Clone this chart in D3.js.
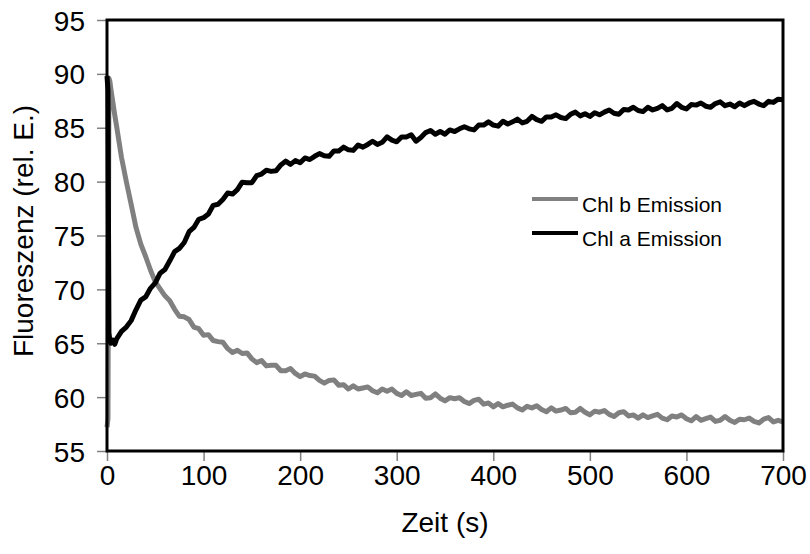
<!DOCTYPE html>
<html>
<head>
<meta charset="utf-8">
<script src="https://cdn.jsdelivr.net/npm/d3@7"></script>
<style>
  body { margin: 0; background: #fff; }
  text { font-family: "Liberation Sans", Arial, sans-serif; }
</style>
</head>
<body>
<script>
//Data (time in s, fluorescence rel. units)
var times = [0, 1, 2, 3, 4, 6, 8,
  10, 15, 20, 25, 30, 35, 40, 45, 50, 55,
  60, 65, 70, 75, 80, 85, 90, 95, 100, 105,
  110, 115, 120, 125, 130, 135, 140, 145, 150, 155,
  160, 165, 170, 175, 180, 185, 190, 195, 200, 205,
  210, 215, 220, 225, 230, 235, 240, 245, 250, 255,
  260, 265, 270, 275, 280, 285, 290, 295, 300, 305,
  310, 315, 320, 325, 330, 335, 340, 345, 350, 355,
  360, 365, 370, 375, 380, 385, 390, 395, 400, 405,
  410, 415, 420, 425, 430, 435, 440, 445, 450, 455,
  460, 465, 470, 475, 480, 485, 490, 495, 500, 505,
  510, 515, 520, 525, 530, 535, 540, 545, 550, 555,
  560, 565, 570, 575, 580, 585, 590, 595, 600, 605,
  610, 615, 620, 625, 630, 635, 640, 645, 650, 655,
  660, 665, 670, 675, 680, 685, 690, 695, 700];

var chlA = [89.8, 88.5, 66.0, 65.2, 65.0, 65.3, 64.9,
  65.4, 66.1, 66.5, 67.1, 68.1, 69.0, 69.3, 70.1, 70.6, 71.5,
  71.85, 72.65, 73.5, 73.8, 74.35, 75.35, 75.75, 76.5, 76.65, 77.0,
  77.8, 77.9, 78.35, 78.95, 78.85, 79.25, 79.95, 79.9, 79.9, 80.55,
  80.7, 81.05, 80.95, 81.0, 81.55, 81.9, 81.6, 81.95, 81.75, 82.2,
  82.05, 82.35, 82.6, 82.4, 82.35, 82.85, 82.85, 83.2, 82.95, 82.9,
  83.4, 83.2, 83.45, 83.75, 83.45, 83.65, 84.15, 83.85, 83.7, 84.15,
  84.15, 84.35, 83.75, 84.1, 84.55, 84.75, 84.4, 84.65, 84.4, 84.8,
  84.65, 84.9, 85.1, 84.9, 84.8, 85.25, 85.25, 85.55, 85.25, 85.15,
  85.6, 85.35, 85.55, 85.8, 85.45, 85.6, 86.05, 85.75, 85.6, 86.0,
  86.0, 86.2, 85.95, 85.85, 86.25, 86.45, 86.1, 86.3, 86.05, 86.4,
  86.2, 86.45, 86.65, 86.35, 86.25, 86.7, 86.65, 86.9, 86.6, 86.5,
  86.9, 86.65, 86.8, 87.05, 86.65, 86.8, 87.25, 86.9, 86.75, 87.15,
  87.1, 87.3, 87.0, 86.9, 87.25, 87.4, 87.05, 87.2, 86.95, 87.3,
  87.05, 87.3, 87.45, 87.2, 87.05, 87.45, 87.35, 87.65, 87.6];

var chlB = [57.2, 58.0, 89.6, 89.3, 88.6, 87.4, 86.2,
  85.1, 82.25, 80.0, 77.9, 75.75, 74.2, 73.05, 71.8, 70.7, 70.05,
  69.4, 68.95, 68.15, 67.5, 67.45, 67.2, 66.5, 66.35, 65.75, 65.8,
  65.25, 65.15, 65.1, 64.5, 64.15, 64.35, 64.05, 64.1, 63.55, 63.2,
  63.4, 62.9, 62.95, 62.95, 62.45, 62.45, 62.65, 62.2, 61.9, 62.15,
  62.0, 61.95, 61.55, 61.3, 61.55, 61.6, 61.1, 61.15, 60.75, 61.05,
  60.75, 60.85, 60.95, 60.6, 60.4, 60.75, 60.55, 60.75, 60.35, 60.15,
  60.5, 60.15, 60.25, 60.35, 59.9, 59.95, 60.3, 59.9, 59.65, 59.95,
  59.85, 59.95, 59.6, 59.4, 59.7, 59.8, 59.35, 59.45, 59.1, 59.4,
  59.1, 59.25, 59.35, 59.0, 58.8, 59.15, 59.0, 59.2, 58.85, 58.65,
  59.0, 58.7, 58.8, 58.95, 58.55, 58.6, 58.95, 58.6, 58.35, 58.7,
  58.6, 58.75, 58.4, 58.2, 58.55, 58.65, 58.25, 58.35, 58.05, 58.35,
  58.1, 58.25, 58.4, 58.05, 57.9, 58.25, 58.15, 58.35, 58.0, 57.8,
  58.2, 57.85, 58.0, 58.15, 57.75, 57.85, 58.2, 57.85, 57.65, 57.95,
  57.9, 58.05, 57.75, 57.6, 57.95, 58.1, 57.7, 57.85, 57.7];

var xTicks = [0, 100, 200, 300, 400, 500, 600, 700];
var yTicks = [55, 60, 65, 70, 75, 80, 85, 90, 95];
var seriesNames = ["Chl b Emission", "Chl a Emission"];
var seriesColors = ["#808080", "#000000"];

//Define Margin
var margin = {left: 107, right: 27, top: 20, bottom: 103},
    width = 810 - margin.left - margin.right,
    height = 554 - margin.top - margin.bottom;

//Define SVG
var svg = d3.select("body")
    .append("svg")
    .attr("width", 810)
    .attr("height", 554)
    .append("g")
    .attr("transform", "translate(" + margin.left + "," + margin.top + ")");

//Define Scales
var xScale = d3.scaleLinear().domain([0, 700]).range([0, width]);
var yScale = d3.scaleLinear().domain([55, 95]).range([height, 0]);

//Define Axis
var xAxis = d3.axisBottom(xScale).tickValues(xTicks).tickSize(10).tickPadding(4);
var yAxis = d3.axisLeft(yScale).tickValues(yTicks).tickSize(10).tickPadding(12);

var gX = svg.append("g")
    .attr("transform", "translate(0," + height + ")")
    .call(xAxis);
var gY = svg.append("g").call(yAxis);

[gX, gY].forEach(function(g) {
    g.select(".domain").remove();
    g.selectAll(".tick line").attr("stroke", "#808080").attr("stroke-width", 1.5);
    g.selectAll(".tick text")
        .attr("fill", "#000")
        .style("font-size", "28px")
        .style("font-family", "'Liberation Sans', Arial, sans-serif");
});
gY.selectAll(".tick text").attr("dy", "0.36em");

//Draw lines
var line = d3.line()
    .x(function(d) { return xScale(d[0]); })
    .y(function(d) { return yScale(d[1]); });

var seriesData = [chlB, chlA];
seriesData.forEach(function(vals, i) {
    svg.append("path")
        .datum(times.map(function(t, j) { return [t, vals[j]]; }))
        .attr("fill", "none")
        .attr("stroke", seriesColors[i])
        .attr("stroke-width", 5)
        .attr("stroke-linejoin", "round")
        .attr("d", line);
});

//Plot frame
svg.append("rect")
    .attr("x", 0)
    .attr("y", 0)
    .attr("width", width)
    .attr("height", height)
    .attr("fill", "none")
    .attr("stroke", "#000")
    .attr("stroke-width", 3);

//Axis labels
svg.append("text")
    .attr("x", width / 2)
    .attr("y", height + 81)
    .style("text-anchor", "middle")
    .style("font-size", "28px")
    .text("Zeit (s)");

svg.append("text")
    .attr("transform", "rotate(-90)")
    .attr("x", -211)
    .attr("y", 33 - margin.left)
    .style("text-anchor", "middle")
    .style("font-size", "28px")
    .text("Fluoreszenz (rel. E.)");

//Legend
seriesNames.forEach(function(name, i) {
    var ly = 179 + i * 34;
    svg.append("line")
        .attr("x1", 425).attr("x2", 471)
        .attr("y1", ly).attr("y2", ly)
        .attr("stroke", seriesColors[i])
        .attr("stroke-width", 4);
    svg.append("text")
        .attr("x", 475)
        .attr("y", ly + 13)
        .style("font-size", "21px")
        .text(name);
});
</script>
</body>
</html>
